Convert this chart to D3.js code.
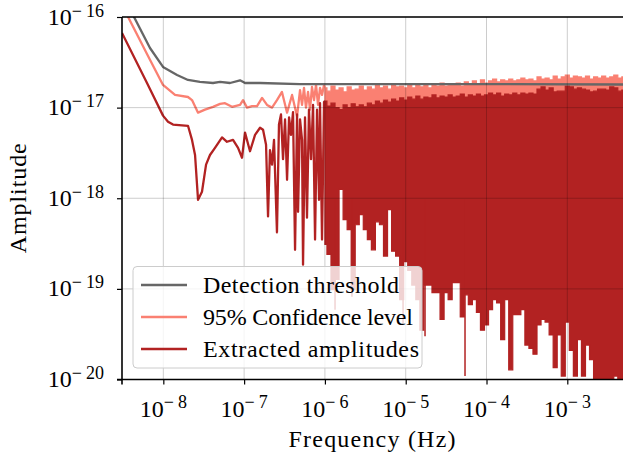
<!DOCTYPE html>
<html><head><meta charset="utf-8">
<script src="https://cdn.jsdelivr.net/npm/d3@7"></script>
<style>
body{margin:0;background:#fff}
svg{display:block}
text{font-family:"Liberation Serif","Times New Roman",serif;fill:#000}
</style>
</head><body><svg id="c" width="623" height="461"></svg>
<script>
// ---------------- data ----------------
const thresholdFreq = [3.08e-9, 4.22e-9, 6.84e-9, 9.91e-9, 1.479e-8, 2.02e-8, 2.84e-8, 4.12e-8, 5.04e-8, 6.69e-8, 8.9e-8, 1.026e-7, 1.574e-7, 4.92e-7, 1e-5, 1e-4, 4.89e-3];
const thresholdAmp  = [1.8e-16, 1.05e-16, 4.55e-17, 2.81e-17, 2.29e-17, 2.02e-17, 1.92e-17, 1.87e-17, 1.92e-17, 1.87e-17, 2.0e-17, 1.87e-17, 1.87e-17, 1.82e-17, 1.82e-17, 1.82e-17, 1.80e-17];

const confFreq = [3.08e-9, 6.28e-9, 9.91e-9, 1.396e-8, 2.02e-8, 2.265e-8, 2.69e-8, 3.28e-8, 4.12e-8, 5.04e-8, 5.8e-8, 7.08e-8, 8.9e-8, 9.69e-8, 1.086e-7, 1.253e-7, 1.445e-7, 1.667e-7, 1.92e-7, 2.215e-7, 2.55e-7, 2.94e-7, 3.4e-7, 3.92e-7, 4.52e-7, 4.92e-7, 5.21e-7, 5.51e-7, 5.83e-7, 6.18e-7, 6.54e-7, 6.92e-7, 7.33e-7, 7.76e-7, 8.22e-7, 8.7e-7, 9.21e-7, 9.75e-7];
const confAmp  = [1.356e-16, 3.9e-17, 1.78e-17, 1.38e-17, 1.31e-17, 1.21e-17, 8.8e-18, 9.5e-18, 1.02e-17, 1.10e-17, 1.12e-17, 1.02e-17, 1.07e-17, 1.21e-17, 1.0e-17, 1.04e-17, 1.04e-17, 1.28e-17, 1.07e-17, 1.0e-17, 1.21e-17, 1.49e-17, 8.8e-18, 1.38e-17, 8.0e-18, 1.56e-17, 1.07e-17, 1.65e-17, 1.0e-17, 1.49e-17, 9.5e-18, 1.69e-17, 1.21e-17, 1.78e-17, 1.07e-17, 1.65e-17, 1.38e-17, 1.78e-17];

const extractedFreq = [3.08e-9, 6.28e-9, 9.91e-9, 1.143e-8, 1.318e-8, 2.02e-8, 2.265e-8, 2.47e-8, 2.69e-8, 3.01e-8, 3.38e-8, 3.78e-8, 4.36e-8, 5.33e-8, 6.14e-8, 7.29e-8, 8.41e-8, 9.42e-8, 1.026e-7, 1.183e-7, 1.365e-7, 1.574e-7, 1.715e-7, 1.868e-7, 1.977e-7, 2.09e-7, 2.215e-7, 2.345e-7, 2.55e-7, 2.7e-7, 2.86e-7, 3.03e-7, 3.21e-7, 3.4e-7, 3.6e-7, 3.8e-7, 4.03e-7, 4.27e-7, 4.52e-7, 4.65e-7, 4.92e-7, 5.21e-7, 5.36e-7, 5.67e-7, 6.0e-7, 6.35e-7, 6.73e-7, 7.13e-7, 7.55e-7, 7.99e-7, 8.46e-7, 8.7e-7, 9.21e-7, 9.75e-7];
const extractedAmp  = [6.66e-17, 1.87e-17, 8.16e-18, 7.0e-18, 6.5e-18, 6.3e-18, 4.4e-18, 3.0e-18, 9.6e-19, 1.18e-18, 2.35e-18, 3.0e-18, 3.6e-18, 4.7e-18, 4.2e-18, 4.4e-18, 3.6e-18, 2.8e-18, 5.3e-18, 3.3e-18, 5.0e-18, 6.0e-18, 5.7e-18, 3.9e-18, 6.3e-19, 3.4e-18, 2.35e-18, 4.4e-18, 4.2e-19, 6.5e-18, 8.4e-18, 2.7e-18, 7.4e-18, 1.6e-18, 7.8e-18, 5.0e-18, 8.9e-18, 2.7e-19, 8.4e-18, 7.1e-19, 7.4e-18, 4.4e-18, 1.85e-19, 7.8e-18, 6.1e-19, 9.5e-18, 2.7e-18, 1.07e-17, 3.5e-19, 9.5e-18, 9.6e-19, 1.12e-17, 3.5e-19, 1.15e-17];

// dense high-frequency part: per-bin max / min of the spectra
const binFreq = [
 1.000e-6,1.122e-6,1.259e-6,1.413e-6,1.585e-6,1.778e-6,1.995e-6,2.239e-6,2.512e-6,2.818e-6,
 3.162e-6,3.548e-6,3.981e-6,4.467e-6,5.012e-6,5.623e-6,6.310e-6,7.079e-6,7.943e-6,8.913e-6,
 1.000e-5,1.122e-5,1.259e-5,1.413e-5,1.585e-5,1.778e-5,1.995e-5,2.239e-5,2.512e-5,2.818e-5,
 3.162e-5,3.548e-5,3.981e-5,4.467e-5,5.012e-5,5.623e-5,6.310e-5,7.079e-5,7.943e-5,8.913e-5,
 1.000e-4,1.122e-4,1.259e-4,1.413e-4,1.585e-4,1.778e-4,1.995e-4,2.239e-4,2.512e-4,2.818e-4,
 3.162e-4,3.548e-4,3.981e-4,4.467e-4,5.012e-4,5.623e-4,6.310e-4,7.079e-4,7.943e-4,8.913e-4,
 1.000e-3,1.122e-3,1.259e-3,1.413e-3,1.585e-3,1.778e-3,1.995e-3,2.239e-3,2.512e-3,2.818e-3,
 3.162e-3,3.548e-3,3.981e-3,4.467e-3,5.012e-3];
const extractedHigh = [
 1.18e-17,1.04e-17,1.12e-17,1.0e-17,9.5e-18,1.07e-17,1.0e-17,1.10e-17,1.02e-17,1.07e-17,
 1.02e-17,1.12e-17,1.07e-17,1.18e-17,1.12e-17,1.21e-17,1.15e-17,1.24e-17,1.18e-17,1.28e-17,
 1.21e-17,1.31e-17,1.24e-17,1.34e-17,1.24e-17,1.31e-17,1.28e-17,1.38e-17,1.28e-17,1.34e-17,
 1.31e-17,1.38e-17,1.31e-17,1.34e-17,1.41e-17,1.31e-17,1.38e-17,1.34e-17,1.41e-17,1.34e-17,
 1.38e-17,1.45e-17,1.38e-17,1.45e-17,1.34e-17,1.41e-17,1.38e-17,1.45e-17,1.38e-17,1.45e-17,
 1.41e-17,1.45e-17,1.41e-17,1.60e-17,1.69e-17,1.56e-17,1.65e-17,1.49e-17,1.52e-17,1.52e-17,
 1.73e-17,1.69e-17,1.60e-17,1.65e-17,1.60e-17,1.56e-17,1.49e-17,1.52e-17,1.60e-17,1.60e-17,
 1.56e-17,1.69e-17,1.65e-17,1.52e-17,1.56e-17];
const extractedLow = [
 3.1e-19,2.4e-19,9.8e-20,1.27e-19,1.25e-18,5.8e-19,4.5e-19,9.8e-20,5.1e-19,6.6e-19,
 4.5e-19,3.5e-19,2.7e-19,5.5e-19,5.1e-19,2.3e-19,7.5e-19,2.6e-19,2.3e-19,7.6e-20,
 2.0e-19,1.6e-19,1.1e-19,7.6e-20,3.5e-20,1.1e-19,1.1e-19,9.1e-20,9.1e-20,4.6e-20,
 9.1e-20,7.6e-20,1.17e-19,1.17e-19,4.9e-20,8.6e-20,6.7e-20,7.6e-20,5.5e-20,3.5e-20,
 4.0e-20,5.9e-20,7.6e-20,7.0e-20,2.75e-20,7.6e-20,1.28e-20,5.2e-20,5.2e-20,5.9e-20,
 2.4e-20,2.2e-20,1.9e-20,4.0e-20,4.6e-20,4.3e-20,3.1e-20,1.35e-20,3.1e-20,1.09e-20,
 4.3e-20,2.1e-20,1.09e-20,2.75e-20,1.09e-20,2.4e-20,1.66e-20,8e-21,8e-21,8e-21,
 8e-21,8e-21,1.09e-20,8e-21,8e-21];
const confHigh = [
 1.65e-17,1.52e-17,1.73e-17,1.56e-17,1.65e-17,1.49e-17,1.69e-17,1.56e-17,1.60e-17,1.73e-17,
 1.56e-17,1.69e-17,1.60e-17,1.78e-17,1.65e-17,1.73e-17,1.60e-17,1.78e-17,1.69e-17,1.73e-17,
 1.65e-17,1.78e-17,1.65e-17,1.82e-17,1.69e-17,1.78e-17,1.65e-17,1.82e-17,1.73e-17,1.87e-17,
 1.73e-17,1.82e-17,1.78e-17,1.87e-17,1.73e-17,1.92e-17,1.82e-17,1.97e-17,1.82e-17,2.02e-17,
 1.87e-17,1.97e-17,2.07e-17,1.92e-17,2.02e-17,1.97e-17,2.07e-17,1.97e-17,2.02e-17,2.12e-17,
 2.02e-17,2.07e-17,1.97e-17,2.18e-17,2.07e-17,2.12e-17,2.02e-17,2.23e-17,2.07e-17,2.18e-17,
 2.29e-17,2.12e-17,2.23e-17,2.18e-17,2.12e-17,2.23e-17,2.07e-17,2.18e-17,2.12e-17,2.23e-17,
 2.12e-17,2.18e-17,2.29e-17,2.12e-17,2.18e-17];
const confLow = [
 9.0e-18,9.4e-18,8.8e-18,9.2e-18,8.9e-18,9.5e-18,9.1e-18,9.6e-18,9.0e-18,9.4e-18,
 9.3e-18,9.8e-18,9.5e-18,1.0e-17,9.6e-18,1.02e-17,9.8e-18,1.04e-17,1.0e-17,1.05e-17,
 1.05e-17,1.1e-17,1.06e-17,1.12e-17,1.08e-17,1.1e-17,1.07e-17,1.13e-17,1.09e-17,1.12e-17,
 1.1e-17,1.14e-17,1.1e-17,1.12e-17,1.15e-17,1.11e-17,1.14e-17,1.12e-17,1.16e-17,1.13e-17,
 1.15e-17,1.18e-17,1.14e-17,1.17e-17,1.15e-17,1.19e-17,1.16e-17,1.18e-17,1.15e-17,1.2e-17,
 1.17e-17,1.19e-17,1.16e-17,1.22e-17,1.2e-17,1.24e-17,1.21e-17,1.23e-17,1.2e-17,1.22e-17,
 1.25e-17,1.22e-17,1.24e-17,1.21e-17,1.25e-17,1.23e-17,1.2e-17,1.24e-17,1.22e-17,1.26e-17,
 1.23e-17,1.25e-17,1.22e-17,1.24e-17,1.23e-17];
// isolated deep dips of the extracted spectrum
const dipFreq = [1.334e-6, 2.16e-6, 9.27e-6, 1.734e-5, 5.42e-5];
const dipAmp  = [5.9e-20, 8.2e-20, 4.2e-20, 3.0e-20, 1.09e-20];

const xTickExps = [-8, -7, -6, -5, -4, -3];
const yTickExps = [-20, -19, -18, -17, -16];
const seriesNames = ["Detection threshold", "95% Confidence level", "Extracted amplitudes"];
const seriesColors = ["#666666", "#fa8072", "#b22222"];

// ---------------- chart ----------------
const svg = d3.select("#c");
const L = 122, R = 623, T = 17, B = 379.5;
const LW = 2.3;
const x = d3.scaleLog().domain([3.08e-9, 4.89e-3]).range([L, R]);
const y = d3.scaleLog().domain([1e-20, 1e-16]).range([B, T]);

svg.append("defs").append("clipPath").attr("id", "clip")
  .append("rect").attr("x", L).attr("y", T).attr("width", R - L).attr("height", B - T);
const plot = svg.append("g").attr("clip-path", "url(#clip)");

const zip = (a, b) => a.map((v, i) => [v, b[i]]);
const line = d3.line().x(d => x(d[0])).y(d => y(d[1]));
const band = d3.area().curve(d3.curveStep)
  .x(d => x(d.f)).y0(d => y(d.lo)).y1(d => y(d.hi));

// 95% confidence level
const confBins = binFreq.map((f, i) => ({f, hi: confHigh[i], lo: confLow[i]}));
plot.append("path").datum(confBins).attr("d", band)
  .attr("fill", seriesColors[1]).attr("stroke", seriesColors[1]).attr("stroke-width", 1.2);
plot.append("path").datum(zip(confFreq, confAmp).concat([[binFreq[0], confHigh[0]]])).attr("d", line)
  .attr("fill", "none").attr("stroke", seriesColors[1]).attr("stroke-width", LW).attr("stroke-linejoin", "round");

// extracted amplitudes
const exBins = binFreq.map((f, i) => ({f, hi: extractedHigh[i], lo: extractedLow[i]}));
plot.append("path").datum(exBins).attr("d", band)
  .attr("fill", seriesColors[2]).attr("stroke", seriesColors[2]).attr("stroke-width", 1.2);
plot.append("path").datum(zip(extractedFreq, extractedAmp).concat([[binFreq[0], extractedHigh[0]]])).attr("d", line)
  .attr("fill", "none").attr("stroke", seriesColors[2]).attr("stroke-width", LW).attr("stroke-linejoin", "round");
plot.selectAll("line.dip").data(zip(dipFreq, dipAmp)).join("line").attr("class", "dip")
  .attr("x1", d => x(d[0])).attr("x2", d => x(d[0]))
  .attr("y1", y(1e-18)).attr("y2", d => y(d[1]))
  .attr("stroke", seriesColors[2]).attr("stroke-width", 1.5);

// detection threshold
plot.append("path").datum(zip(thresholdFreq, thresholdAmp)).attr("d", line)
  .attr("fill", "none").attr("stroke", seriesColors[0]).attr("stroke-width", LW).attr("stroke-linejoin", "round");

// grid (on top)
const grid = svg.append("g").attr("stroke", "rgba(0,0,0,0.2)").attr("stroke-width", 1);
xTickExps.forEach(e => {
  const xx = x(Math.pow(10, e));
  grid.append("line").attr("x1", xx).attr("x2", xx).attr("y1", T).attr("y2", B);
});
yTickExps.forEach(e => {
  const yy = y(Math.pow(10, e));
  grid.append("line").attr("x1", L).attr("x2", R).attr("y1", yy).attr("y2", yy);
});

// axes
const xMinor = [];
for (let e = -9; e <= -3; e++) for (let m = 2; m <= 9; m++) { const v = m * Math.pow(10, e); if (v >= x.domain()[0] && v <= x.domain()[1]) xMinor.push(v); }
const yMinor = [];
for (let e = -20; e < -16; e++) for (let m = 2; m <= 9; m++) yMinor.push(m * Math.pow(10, e));

const gx = svg.append("g").attr("transform", `translate(0,${B})`);
gx.call(d3.axisBottom(x).tickValues(xMinor).tickFormat("").tickSize(3).tickSizeOuter(0));
gx.call(d3.axisBottom(x).tickValues(xTickExps.map(e => Math.pow(10, e))).tickFormat("").tickSize(5).tickSizeOuter(0));
const gy = svg.append("g").attr("transform", `translate(${L},0)`);
gy.call(d3.axisLeft(y).tickValues(yMinor).tickFormat("").tickSize(3).tickSizeOuter(0));
gy.call(d3.axisLeft(y).tickValues(yTickExps.map(e => Math.pow(10, e))).tickFormat("").tickSize(5).tickSizeOuter(0));
svg.selectAll(".domain").remove();
svg.selectAll(".tick line").attr("stroke", "#000").attr("stroke-width", 1.2);

// spines
const sp = svg.append("g").attr("stroke", "#000").attr("stroke-width", 1.6).attr("fill", "none");
sp.append("line").attr("x1", L).attr("x2", R + 1).attr("y1", T).attr("y2", T);
sp.append("line").attr("x1", L - 5).attr("x2", R + 1).attr("y1", B).attr("y2", B);
sp.append("line").attr("x1", L).attr("x2", L).attr("y1", T).attr("y2", B + 5);

function sci(t, e, rise) {
  t.append("tspan").text("10");
  t.append("tspan").attr("dy", -rise).attr("font-size", 18).text("\u2212");
  t.append("tspan").attr("dx", 4).attr("font-size", 18).text(String(Math.abs(e)));
}
xTickExps.forEach(e => {
  const t = svg.append("text").attr("x", x(Math.pow(10, e))).attr("y", 417)
    .attr("text-anchor", "middle").attr("font-size", 24);
  sci(t, e, 9);
});
yTickExps.forEach(e => {
  const t = svg.append("text").attr("x", 104).attr("y", y(Math.pow(10, e)) + 7.5)
    .attr("text-anchor", "end").attr("font-size", 24);
  sci(t, e, 8);
});

svg.append("text").attr("x", (L + R) / 2 - 0.5).attr("y", 447).attr("text-anchor", "middle")
  .attr("font-size", 24).attr("textLength", 167).attr("lengthAdjust", "spacing").text("Frequency (Hz)");
svg.append("text").attr("transform", `translate(26,${(T + B) / 2}) rotate(-90)`).attr("text-anchor", "middle")
  .attr("font-size", 24).attr("textLength", 110).attr("lengthAdjust", "spacing").text("Amplitude");

// legend
const lg = svg.append("g");
lg.append("rect").attr("x", 133).attr("y", 266.5).attr("width", 289).attr("height", 101.5).attr("rx", 4)
  .attr("fill", "rgba(255,255,255,0.8)").attr("stroke", "#cccccc").attr("stroke-width", 1);
const legendWidths = [196, 210, 216];
seriesNames.forEach((n, i) => {
  const cy = 285 + i * 32;
  lg.append("line").attr("x1", 141).attr("x2", 187).attr("y1", cy).attr("y2", cy)
    .attr("stroke", seriesColors[i]).attr("stroke-width", LW);
  lg.append("text").attr("x", 203).attr("y", cy + 8).attr("font-size", 24)
    .attr("textLength", legendWidths[i]).attr("lengthAdjust", "spacing").text(n);
});
</script>
</body></html>
